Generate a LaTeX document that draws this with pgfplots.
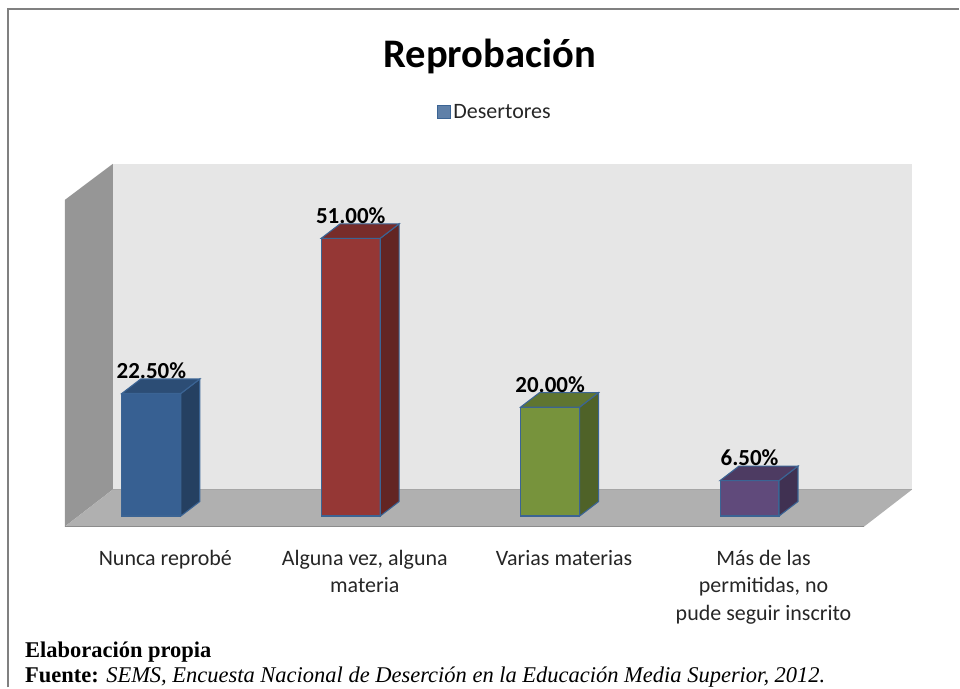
\documentclass[border=0pt]{standalone}
\usepackage{fontspec}
\setmainfont{Carlito}
\newfontfamily\serifok{Liberation Serif}
\usepackage{pgfplots}
\pgfplotsset{compat=1.18}
\definecolor{wallside}{HTML}{969696}
\definecolor{wallback}{HTML}{E6E6E6}
\definecolor{floorc}{HTML}{B0B0B0}
\definecolor{edgec}{HTML}{3B6494}
\definecolor{blueF}{HTML}{376092}
\definecolor{blueS}{HTML}{254061}
\definecolor{blueT}{HTML}{2C4D75}
\definecolor{redF}{HTML}{953735}
\definecolor{redS}{HTML}{632523}
\definecolor{redT}{HTML}{772C2A}
\definecolor{greenF}{HTML}{77933C}
\definecolor{greenS}{HTML}{4F6228}
\definecolor{greenT}{HTML}{5F7530}
\definecolor{purpF}{HTML}{604A7B}
\definecolor{purpS}{HTML}{403152}
\definecolor{purpT}{HTML}{4D3B62}
\begin{document}
\begin{tikzpicture}
\begin{axis}[
  scale only axis,
  width=800pt, height=363pt,
  xmin=-0.4334, xmax=3.575,
  ymin=-1.93, ymax=64.68,
  clip=false,
  axis line style={draw=none},
  tick style={draw=none},
  ytick=\empty,
  xtick={0,1,2,3},
  xticklabels={Nunca reprobé,{Alguna vez, alguna\\materia},Varias materias,{Más de las\\permitidas, no\\pude seguir inscrito}},
  xticklabel style={font=\fontsize{22}{27.5}\selectfont, text=black!85, align=center, anchor=north, xshift=14pt, yshift=-20pt},
  title={\textbf{Reprobación}},
  title style={font=\fontsize{40.6}{44}\selectfont, at={(0.5315,1.25)}, anchor=base},
  legend style={at={(0.538,1.143)}, anchor=center, draw=none, fill=none, font=\fontsize{22}{26}\selectfont, text=black!85},
  /pgf/number format/assume math mode=true,
  bar3d/.style={ybar, bar width=59pt, bar shift=0pt, line width=1.1pt, draw=edgec, forget plot,
    nodes near coords={\pgfmathprintnumber[fixed,fixed zerofill,precision=2]{\pgfplotspointmeta}\%},
    nodes near coords style={font=\fontsize{23}{26}\selectfont\bfseries, text=black, anchor=south, yshift=11pt}},
  face3d/.style={line width=1.1pt, draw=edgec, forget plot},
]
  \addlegendimage{legend image code/.code={\draw[fill=blueF!80!white, draw=edgec, line width=1.3pt] (4pt,-6.5pt) rectangle (17pt,6.5pt);}}
  \addlegendentry{Desertores}

  % walls and floor
  \addplot[fill=wallback, draw=none, forget plot] coordinates {(-0.1929,4.86)(3.815,4.86)(3.815,64.68)(-0.1929,64.68)} --cycle;
  \addplot[fill=wallside, draw=none, forget plot] coordinates {(-0.4334,58.07)(-0.1929,64.68)(-0.1929,4.86)(-0.4334,-1.93)} --cycle;
  \addplot[fill=floorc, draw=none, forget plot] coordinates {(-0.4334,-1.93)(-0.1929,4.86)(3.815,4.86)(3.575,-1.93)} --cycle;
  \addplot[draw=black!45, line width=1pt, forget plot] coordinates {(-0.4334,-1.93)(3.575,-1.93)};
  \addplot[draw=black!35, line width=0.7pt, forget plot] coordinates {(-0.1929,4.86)(3.815,4.86)};

  % Nunca reprobe
  \addplot[bar3d, fill=blueF] coordinates {(0,22.5)};
  \addplot[face3d, fill=blueS] coordinates {(0.148,0)(0.243,2.66)(0.243,25.16)(0.148,22.5)} --cycle;
  \addplot[face3d, fill=blueT] coordinates {(-0.148,22.5)(0.148,22.5)(0.243,25.16)(-0.053,25.16)} --cycle;
  % Alguna vez
  \addplot[bar3d, fill=redF] coordinates {(1,51)};
  \addplot[face3d, fill=redS] coordinates {(1.148,0)(1.243,2.66)(1.243,53.66)(1.148,51)} --cycle;
  \addplot[face3d, fill=redT] coordinates {(0.852,51)(1.148,51)(1.243,53.66)(0.947,53.66)} --cycle;
  % Varias materias
  \addplot[bar3d, fill=greenF] coordinates {(2,20)};
  \addplot[face3d, fill=greenS] coordinates {(2.148,0)(2.243,2.66)(2.243,22.66)(2.148,20)} --cycle;
  \addplot[face3d, fill=greenT] coordinates {(1.852,20)(2.148,20)(2.243,22.66)(1.947,22.66)} --cycle;
  % Mas de las permitidas
  \addplot[bar3d, fill=purpF] coordinates {(3,6.5)};
  \addplot[face3d, fill=purpS] coordinates {(3.148,0)(3.243,2.66)(3.243,9.16)(3.148,6.5)} --cycle;
  \addplot[face3d, fill=purpT] coordinates {(2.852,6.5)(3.148,6.5)(3.243,9.16)(2.947,9.16)} --cycle;

  % frame, open on the right and at the bottom
  \draw[color=black!50, line width=2pt] (axis cs:-0.7189,-31.47) -- (axis cs:-0.7189,93.12) -- (axis cs:4.0505,93.12);
  % footer
  \node[anchor=base west, inner sep=0pt, font=\fontsize{22.5}{26}\selectfont\serifok] at (axis cs:-0.634,-25.96) {\textbf{Elaboración propia}};
  \node[anchor=base west, inner sep=0pt, font=\fontsize{22.5}{26}\selectfont\serifok] at (axis cs:-0.634,-30.55) {\textbf{Fuente:} \textit{SEMS, Encuesta Nacional de Deserción en la Educación Media Superior, 2012.}};
  \path (axis cs:-0.759,94.77) rectangle (axis cs:4.0505,-31.47);
\end{axis}
\end{tikzpicture}
\end{document}
